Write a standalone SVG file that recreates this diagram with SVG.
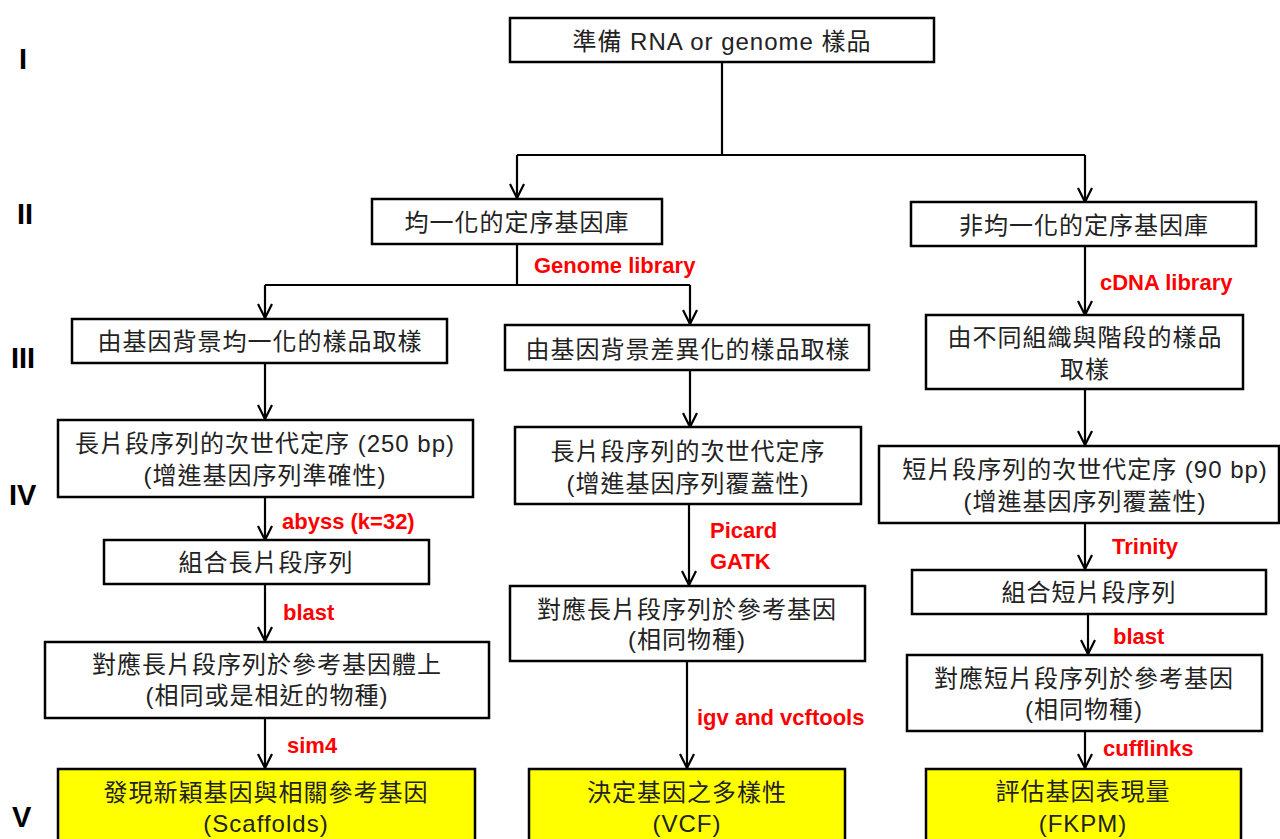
<svg xmlns="http://www.w3.org/2000/svg" width="1280" height="839" viewBox="0 0 1280 839">
<defs>
<marker id="arr" markerWidth="20" markerHeight="20" refX="0" refY="0" orient="auto" markerUnits="userSpaceOnUse" overflow="visible">
<path d="M-14,-7 L0,0 L-14,7" fill="none" stroke="#000" stroke-width="2.2"/>
</marker>
</defs>
<style>
.box{fill:#fff;stroke:#000;stroke-width:2.5}
.yel{fill:#ffff00;stroke:#000;stroke-width:2.5}
.t{font-family:"Liberation Sans","Noto Sans CJK TC",sans-serif;font-size:24px;fill:#222;text-anchor:middle;letter-spacing:1px}
.r{font-family:"Liberation Sans","Noto Sans CJK TC",sans-serif;font-size:22px;font-weight:bold;fill:#ff0000}
.n{font-family:"Liberation Sans",sans-serif;font-size:29px;font-weight:bold;fill:#000}
.c{fill:none;stroke:#000;stroke-width:2.2}
.a{fill:none;stroke:#000;stroke-width:2.2;marker-end:url(#arr)}
</style>
<rect width="1280" height="839" fill="#fff"/>
<g id="levels">
<text class="n" x="19" y="69">I</text>
<text class="n" x="17" y="224">II</text>
<text class="n" x="11" y="368">III</text>
<text class="n" x="9" y="505">IV</text>
<text class="n" x="12" y="827">V</text>
</g>
<g id="connectors">
<path class="c" d="M722,62 V155 M517,155 H1085"/>
<path class="a" d="M517,155 V198"/>
<path class="a" d="M1085,155 V202"/>
<path class="c" d="M517,244 V285 M265,285 H690"/>
<path class="a" d="M265,285 V318"/>
<path class="a" d="M690,285 V324"/>
<path class="a" d="M1085,246 V315"/>
<path class="a" d="M265,363 V419"/>
<path class="a" d="M690,370 V427"/>
<path class="a" d="M1085,389 V445"/>
<path class="a" d="M265,497 V540"/>
<path class="a" d="M265,584 V641"/>
<path class="a" d="M265,718 V768"/>
<path class="a" d="M689,504 V585"/>
<path class="a" d="M687,661 V768"/>
<path class="a" d="M1085,523 V569"/>
<path class="a" d="M1088,614 V654"/>
<path class="a" d="M1085,731 V768"/>
</g>
<g id="labels">
<text class="r" x="534" y="273">Genome library</text>
<text class="r" x="1100" y="290">cDNA library</text>
<text class="r" x="282" y="529">abyss (k=32)</text>
<text class="r" x="283" y="620">blast</text>
<text class="r" x="287" y="753">sim4</text>
<text class="r" x="710" y="538">Picard</text>
<text class="r" x="710" y="569">GATK</text>
<text class="r" x="697" y="725">igv and vcftools</text>
<text class="r" x="1112" y="554">Trinity</text>
<text class="r" x="1113" y="644">blast</text>
<text class="r" x="1103" y="756">cufflinks</text>
</g>
<g id="n1"><rect class="box" x="510" y="18" width="424" height="44"/><text class="t" x="722" y="50">準備 RNA or genome 樣品</text></g>
<g id="n2"><rect class="box" x="372" y="199" width="290" height="45"/><text class="t" x="517" y="231">均一化的定序基因庫</text></g>
<g id="n3"><rect class="box" x="911" y="202" width="345" height="44"/><text class="t" x="1084" y="234">非均一化的定序基因庫</text></g>
<g id="n4"><rect class="box" x="72" y="319" width="375" height="44"/><text class="t" x="260" y="350">由基因背景均一化的樣品取樣</text></g>
<g id="n5"><rect class="box" x="505" y="325" width="364" height="45"/><text class="t" x="688" y="358">由基因背景差異化的樣品取樣</text></g>
<g id="n6"><rect class="box" x="926" y="315" width="317" height="74"/><text class="t" x="1085" y="346">由不同組織與階段的樣品</text><text class="t" x="1085" y="378">取樣</text></g>
<g id="n7"><rect class="box" x="58" y="420" width="415" height="77"/><text class="t" x="265" y="452">長片段序列的次世代定序 (250 bp)</text><text class="t" x="265" y="484">(增進基因序列準確性)</text></g>
<g id="n8"><rect class="box" x="515" y="427" width="346" height="77"/><text class="t" x="688" y="460">長片段序列的次世代定序</text><text class="t" x="688" y="492">(增進基因序列覆蓋性)</text></g>
<g id="n9"><rect class="box" x="879" y="446" width="400" height="77"/><text class="t" x="1085" y="478">短片段序列的次世代定序 (90 bp)</text><text class="t" x="1085" y="510">(增進基因序列覆蓋性)</text></g>
<g id="n10"><rect class="box" x="104" y="540" width="325" height="44"/><text class="t" x="266" y="571">組合長片段序列</text></g>
<g id="n11"><rect class="box" x="45" y="642" width="444" height="76"/><text class="t" x="267" y="673">對應長片段序列於參考基因體上</text><text class="t" x="267" y="704">(相同或是相近的物種)</text></g>
<g id="n12"><rect class="yel" x="58" y="769" width="417" height="75"/><text class="t" x="266" y="801">發現新穎基因與相關參考基因</text><text class="t" x="266" y="832">(Scaffolds)</text></g>
<g id="n13"><rect class="box" x="510" y="586" width="355" height="75"/><text class="t" x="687" y="618">對應長片段序列於參考基因</text><text class="t" x="687" y="648">(相同物種)</text></g>
<g id="n14"><rect class="yel" x="529" y="769" width="316" height="75"/><text class="t" x="687" y="801">決定基因之多樣性</text><text class="t" x="687" y="832">(VCF)</text></g>
<g id="n15"><rect class="box" x="912" y="570" width="354" height="44"/><text class="t" x="1089" y="601">組合短片段序列</text></g>
<g id="n16"><rect class="box" x="907" y="655" width="355" height="76"/><text class="t" x="1084" y="687">對應短片段序列於參考基因</text><text class="t" x="1084" y="718">(相同物種)</text></g>
<g id="n17"><rect class="yel" x="926" y="769" width="315" height="75"/><text class="t" x="1083" y="800">評估基因表現量</text><text class="t" x="1083" y="832">(FKPM)</text></g>
</svg>
